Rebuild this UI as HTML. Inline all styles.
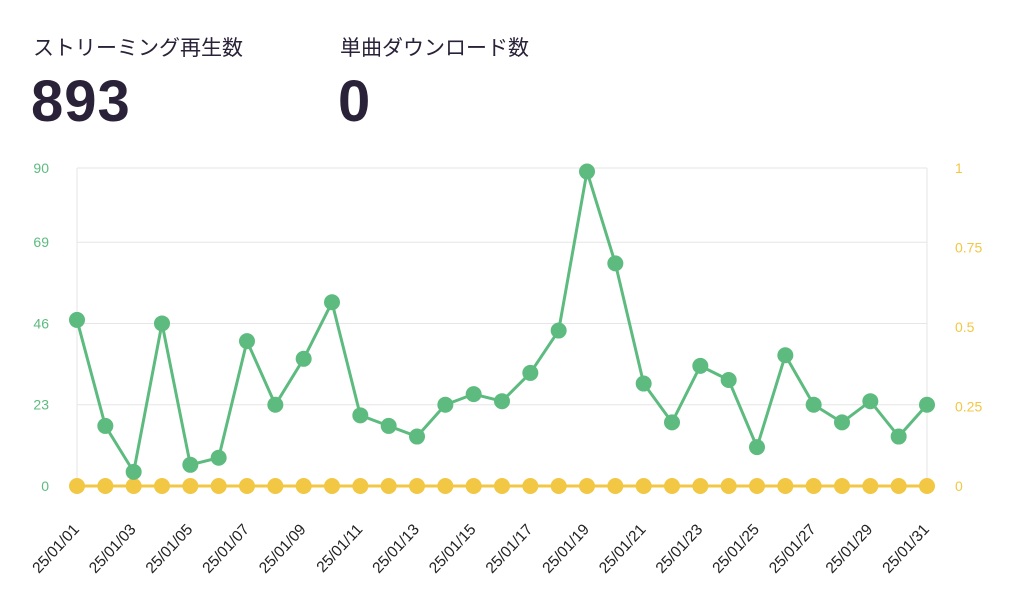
<!DOCTYPE html>
<html><head><meta charset="utf-8"><style>
body{margin:0;width:1024px;height:609px;background:#fff;font-family:"Liberation Sans","Noto Sans CJK JP",sans-serif;overflow:hidden;position:relative}
.lbl{position:absolute;top:32px;font-size:21px;color:#2a2238}
.num{position:absolute;top:68px;font-size:58px;font-weight:900;color:#2a2238;letter-spacing:1px}
svg{position:absolute;left:0;top:0}
</style></head><body>
<div class="lbl" style="left:33px">ストリーミング再生数</div>
<div class="num" style="left:31px">893</div>
<div class="lbl" style="left:340px">単曲ダウンロード数</div>
<div class="num" style="left:338px">0</div>
<svg id="chart" width="1024" height="609"></svg>
<script>
const dates=["25/01/01","25/01/02","25/01/03","25/01/04","25/01/05","25/01/06","25/01/07","25/01/08","25/01/09","25/01/10","25/01/11","25/01/12","25/01/13","25/01/14","25/01/15","25/01/16","25/01/17","25/01/18","25/01/19","25/01/20","25/01/21","25/01/22","25/01/23","25/01/24","25/01/25","25/01/26","25/01/27","25/01/28","25/01/29","25/01/30","25/01/31"];
const streams=[47,17,4,46,6,8,41,23,36,52,20,17,14,23,26,24,32,44,89,63,29,18,34,30,11,37,23,18,24,14,23];
const downloads=[0,0,0,0,0,0,0,0,0,0,0,0,0,0,0,0,0,0,0,0,0,0,0,0,0,0,0,0,0,0,0];
const leftTicks=[0,23,46,69,90];
const rightTicks=[0,0.25,0.5,0.75,1];
const ns="http://www.w3.org/2000/svg",svg=document.getElementById("chart");
const x0=77,x1=927,yb=486,yt=168;
const xs=i=>x0+(x1-x0)*i/(dates.length-1);
const yl=v=>yb-(yb-yt)*v/90;
const yr=v=>yb-(yb-yt)*v/1;
function mk(t,a){const e=document.createElementNS(ns,t);for(const k in a)e.setAttribute(k,a[k]);svg.appendChild(e);return e;}
leftTicks.forEach(v=>{
 const l=mk("line",{x1:x0,x2:x1,y1:yl(v),y2:yl(v),stroke:"#e6e6e6"});
 
 
 const t=mk("text",{x:49,y:yl(v)+5,"text-anchor":"end","font-size":14,fill:"#5dbb7f"});t.textContent=v;
 
 
});
rightTicks.forEach(v=>{
 const t=mk("text",{x:955,y:yr(v)+5,"font-size":14,fill:"#f2c744"});t.textContent=v;
 
 
});
[x0,x1].forEach(x=>{const l=mk("line",{x1:x,x2:x,y1:yt,y2:yb,stroke:"#e6e6e6"});
 
 });
dates.forEach((d,i)=>{if(i%2)return;
 const ax=xs(i)+3, ay=yb+44;
 const t=mk("text",{x:ax,y:ay,"text-anchor":"end","font-size":15.5,fill:"#222",transform:`rotate(-47 ${ax} ${ay})`});t.textContent=d;
 
 
});
const yp=mk("polyline",{points:downloads.map((v,i)=>xs(i)+","+yr(v)).join(" "),fill:"none",stroke:"#f2c744","stroke-width":3});


downloads.forEach((v,i)=>{const c=mk("circle",{cx:xs(i),cy:yr(v),r:8,fill:"#f2c744"});
 
 });
const gp=mk("polyline",{points:streams.map((v,i)=>xs(i)+","+yl(v)).join(" "),fill:"none",stroke:"#5dbb7f","stroke-width":3});


streams.forEach((v,i)=>{const c=mk("circle",{cx:xs(i),cy:yl(v),r:8,fill:"#5dbb7f"});
 
 });
</script>
</body></html>
